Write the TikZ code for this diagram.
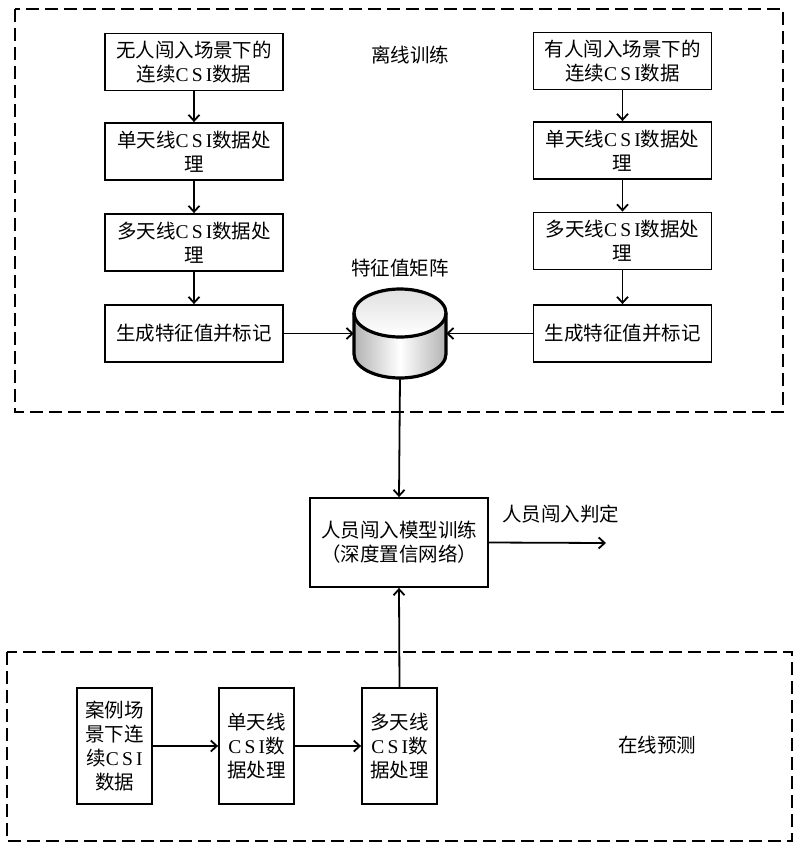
\documentclass[tikz,border=0pt]{standalone}
\usepackage{fontspec}
\setmainfont{Noto Sans CJK SC}
\newfontfamily\latfont{Liberation Serif}
\newcommand{\csitext}{{\latfont C\,S\,I}}
\usetikzlibrary{arrows.meta}
\begin{document}
\begin{tikzpicture}[x=1pt,y=-1pt,
  every node/.style={font=\fontsize{19.5}{24}\selectfont},
  box/.style={draw, line width=1.8pt, align=center, inner sep=0pt, minimum width=178pt, minimum height=57pt},
  vbox/.style={draw, line width=1.8pt, align=center, inner sep=0pt, minimum width=75pt, minimum height=116pt},
  conn/.style={line width=1.8pt, -{Straight Barb[length=6pt,width=11pt,line width=1.8pt]}},
  region/.style={line width=1.8pt, dash pattern=on 13pt off 6pt},
  lbl/.style={inner sep=0pt}]
\useasboundingbox (0,0) rectangle (800,847);

% dashed regions
\draw[region] (15,9) rectangle (783,412);
\draw[region] (7,652) rectangle (792,841);

% left column
\node[box] (l1) at (194,62) {无人闯入场景下的\\连续\csitext 数据};
\node[box] (l2) at (194,151.5) {单天线\csitext 数据处\\理};
\node[box] (l3) at (194,242.5) {多天线\csitext 数据处\\理};
\node[box] (l4) at (194,333.5) {生成特征值并标记};

% right column
\node[box] (r1) at (622.5,61) {有人闯入场景下的\\连续\csitext 数据};
\node[box] (r2) at (622.5,150.5) {单天线\csitext 数据处\\理};
\node[box] (r3) at (622.5,241) {多天线\csitext 数据处\\理};
\node[box] (r4) at (622.5,333.5) {生成特征值并标记};

\node[lbl] (offline) at (410,55) {离线训练};

% database cylinder
\node[minimum width=92pt, minimum height=89pt, inner sep=0pt] (db) at (400,333.5) {};
\shade[left color=black!30, right color=black!30, middle color=white]
  (354,313) -- (354,354) arc[start angle=180, end angle=360, x radius=46, y radius=-24] -- (446,313) -- cycle;
\shade[top color=black!12, bottom color=white] (400,313) ellipse[x radius=46, y radius=24];
\draw[line width=3.2pt] (354,313) -- (354,354) arc[start angle=180, end angle=360, x radius=46, y radius=-24] -- (446,313);
\draw[line width=3.2pt] (400,313) ellipse[x radius=46, y radius=24];
\node[lbl] (dblabel) at (400,268) {特征值矩阵};

% model box
\node[box, minimum height=89pt] (model) at (399,542.5) {人员闯入模型训练\\（深度置信网络）};
\coordinate (out) at (606,543);
\node[lbl, anchor=west] (decision) at (502,514) {人员闯入判定};

% online boxes
\node[vbox] (b1) at (114.5,746) {案例场\\景下连\\续\csitext\\数据};
\node[vbox] (b2) at (256.5,746) {单天线\\\csitext 数\\据处理};
\node[vbox] (b3) at (399.5,746) {多天线\\\csitext 数\\据处理};
\node[lbl] (online) at (657,745) {在线预测};

% connectors
\draw[conn] (l1) -- (l2);
\draw[conn] (l2) -- (l3);
\draw[conn] (l3) -- (l4);
\draw[conn] (r1) -- (r2);
\draw[conn] (r2) -- (r3);
\draw[conn] (r3) -- (r4);
\draw[conn] (l4.east) -- (db.west);
\draw[conn] (r4.west) -- (db.east);
\draw[conn] (db.south) -- (model.north);
\draw[conn] (model.east) -- (out);
\draw[conn] (b1) -- (b2);
\draw[conn] (b2) -- (b3);
\draw[conn] (b3.north) -- (model.south);
\end{tikzpicture}
\end{document}
